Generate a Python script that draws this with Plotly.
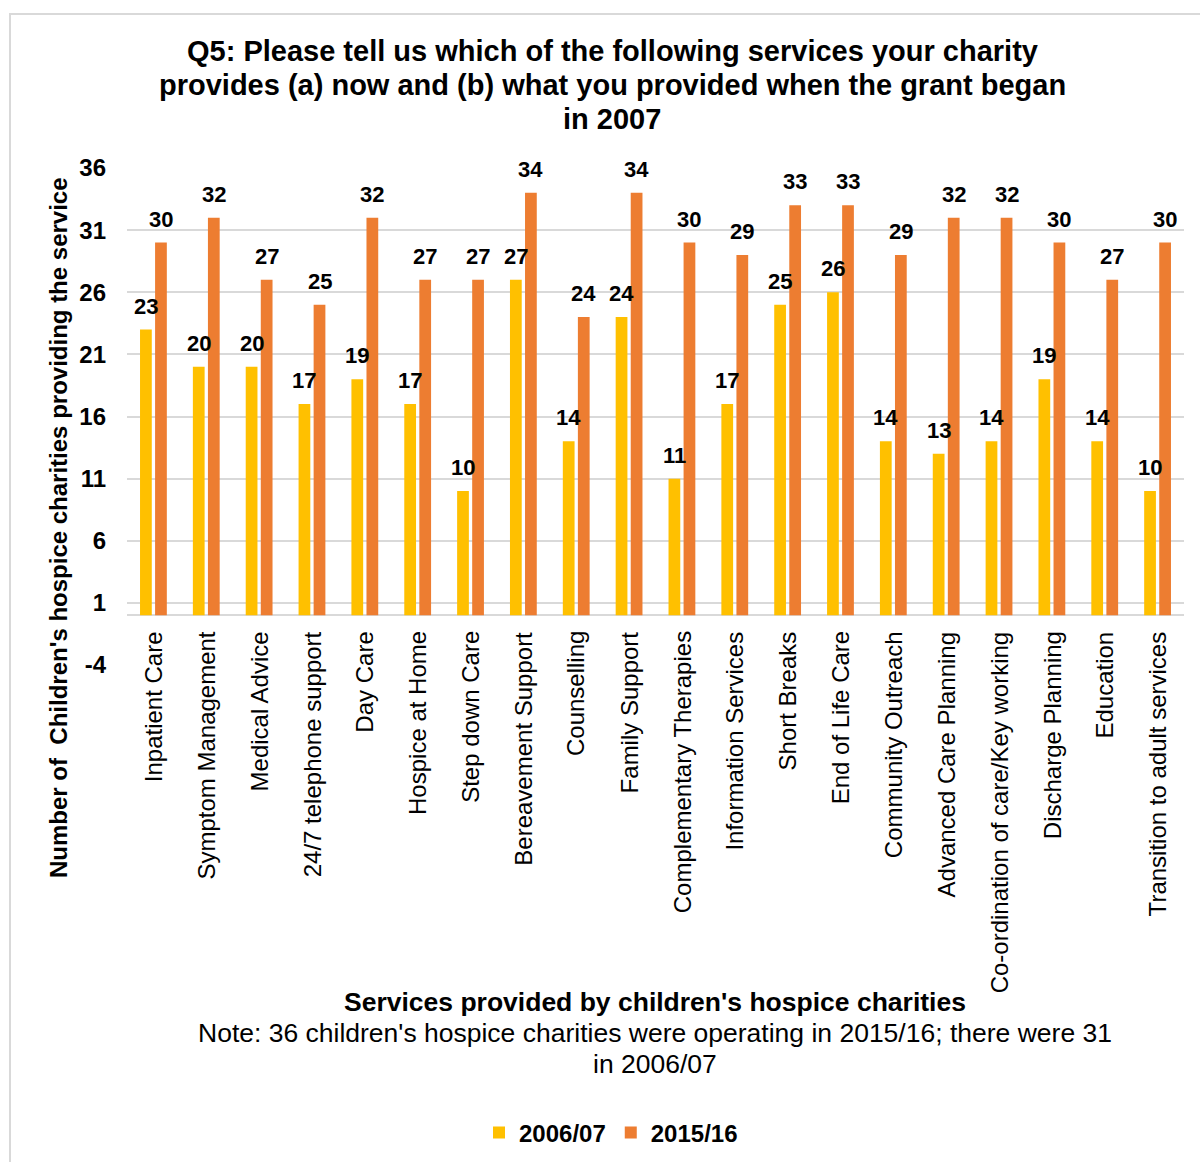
import plotly.graph_objects as go

categories = ["Inpatient Care", "Symptom Management", "Medical Advice", "24/7 telephone support",
              "Day Care", "Hospice at Home", "Step down Care", "Bereavement Support", "Counselling",
              "Family Support", "Complementary Therapies", "Information Services", "Short Breaks",
              "End of Life Care", "Community Outreach", "Advanced Care Planning",
              "Co-ordination of care/Key working", "Discharge Planning", "Education",
              "Transition to adult services"]
v2006 = [23, 20, 20, 17, 19, 17, 10, 27, 14, 24, 11, 17, 25, 26, 14, 13, 14, 19, 14, 10]
v2015 = [30, 32, 27, 25, 32, 27, 27, 34, 24, 34, 30, 29, 33, 33, 29, 32, 32, 30, 27, 30]
series_names = ["2006/07", "2015/16"]
y_ticks = [-4, 1, 6, 11, 16, 21, 26, 31, 36]
y_ticktext = ["-4", "1", "6", "11", "16", "21", "26", "31", "36"]

title_lines = ["Q5: Please tell us which of the following services your charity",
               "provides (a) now and (b) what you provided when the grant began",
               "in 2007"]
y_title = "Number of  Children's hospice charities providing the service"
x_title = "Services provided by children's hospice charities"
note1 = "Note: 36 children's hospice charities were operating in 2015/16; there were 31"
note2 = "in 2006/07"

W, H = 1200, 1162
L, R, T, B = 127, 16, 168, 497
PW, PH = W - L - R, H - T - B
FONT = "Arial, Liberation Sans, sans-serif"
YELLOW, ORANGE, GRID = "#FFC000", "#ED7D31", "#D9D9D9"
BARGAP, GROUPGAP = 0.43, 0.22


def px_x(p):
    return (p - L) / PW


def px_y(p):
    return (H - B - p) / PH


fig = go.Figure()
fig.add_trace(go.Bar(x=categories, y=v2006, name=series_names[0], marker_color=YELLOW,
                     marker_line_width=0))
fig.add_trace(go.Bar(x=categories, y=v2015, name=series_names[1], marker_color=ORANGE,
                     marker_line_width=0))

annotations = []
cw = PW / len(categories)
slot = cw * (1 - BARGAP) / 2
for vals, sh in ((v2006, -slot / 2), (v2015, slot / 2)):
    for c, v in zip(categories, vals):
        annotations.append(dict(x=c, y=v, xref="x", yref="y", text=f"<b>{v}</b>", showarrow=False,
                                xanchor="center", yanchor="bottom", xshift=sh, yshift=9,
                                font=dict(family=FONT, size=22, color="#000000")))
for c in categories:
    annotations.append(dict(x=c, y=0, xref="x", yref="y", text=c, showarrow=False, textangle=-90,
                            xanchor="center", yanchor="top", yshift=-14,
                            font=dict(family=FONT, size=24, color="#000000")))

for line, yc in zip(title_lines, (51, 85, 119)):
    annotations.append(dict(x=px_x(612), y=px_y(yc), xref="paper", yref="paper", text=f"<b>{line}</b>",
                            showarrow=False, xanchor="center", yanchor="middle",
                            font=dict(family=FONT, size=29, color="#000000")))

annotations.append(dict(x=px_x(58), y=px_y(528), xref="paper", yref="paper", text=f"<b>{y_title}</b>",
                        showarrow=False, textangle=-90, xanchor="center", yanchor="middle",
                        font=dict(family=FONT, size=24, color="#000000")))
annotations.append(dict(x=px_x(655), y=px_y(1002), xref="paper", yref="paper", text=f"<b>{x_title}</b>",
                        showarrow=False, xanchor="center", yanchor="middle",
                        font=dict(family=FONT, size=26.5, color="#000000")))
annotations.append(dict(x=px_x(655), y=px_y(1033), xref="paper", yref="paper", text=note1,
                        showarrow=False, xanchor="center", yanchor="middle",
                        font=dict(family=FONT, size=26.5, color="#000000")))
annotations.append(dict(x=px_x(655), y=px_y(1064), xref="paper", yref="paper", text=note2,
                        showarrow=False, xanchor="center", yanchor="middle",
                        font=dict(family=FONT, size=26.5, color="#000000")))

shapes = [dict(type="rect", xref="paper", yref="paper", x0=px_x(10), x1=px_x(1230), y0=px_y(14),
               y1=px_y(1190), line=dict(color=GRID, width=2), fillcolor="rgba(0,0,0,0)", layer="below")]

fig.update_layout(
    width=W, height=H,
    margin=dict(l=L, r=R, t=T, b=B, autoexpand=False),
    paper_bgcolor="white", plot_bgcolor="white",
    font=dict(family=FONT, size=24, color="#000000"),
    barmode="group", bargap=BARGAP, bargroupgap=GROUPGAP,
    xaxis=dict(showticklabels=False, showgrid=False, zeroline=False, showline=False, ticks=""),
    yaxis=dict(range=[-4, 36], tickvals=y_ticks, ticktext=y_ticktext, showgrid=True,
               gridcolor=GRID, gridwidth=1.5,
               zeroline=True, zerolinecolor=GRID, zerolinewidth=1.5, showline=False, ticks="",
               ticklabelstandoff=20,
               tickfont=dict(family=FONT, size=24, color="#000000", weight="bold")),
    legend=dict(orientation="h", x=px_x(611), y=px_y(1133), xanchor="center", yanchor="middle",
                font=dict(family=FONT, size=24, color="#000000", weight="bold"),
                itemwidth=30, traceorder="normal", bgcolor="rgba(0,0,0,0)"),
    annotations=annotations, shapes=shapes,
)

fig.write_html("out.html")
